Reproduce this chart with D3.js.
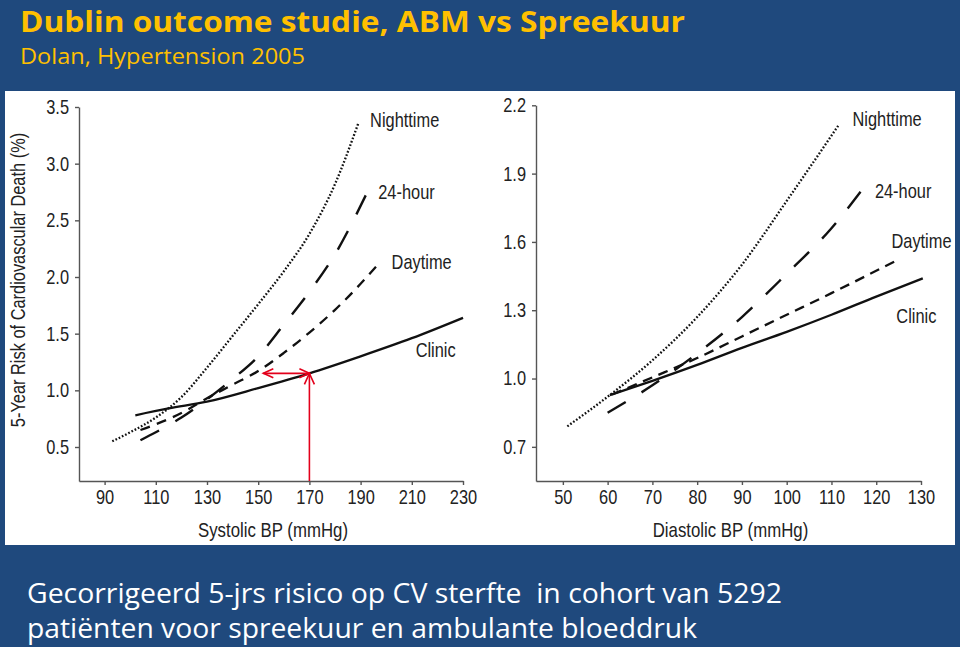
<!DOCTYPE html>
<html><head><meta charset="utf-8">
<script src="https://cdn.jsdelivr.net/npm/d3@7"></script>
<style>
html,body{margin:0;padding:0;background:#1f497d;}
svg{display:block;}
</style></head><body>
<svg id="c" width="960" height="647"></svg>
<script>
// ---------- DATA ----------
const titleText = "Dublin outcome studie, ABM vs Spreekuur";
const subtitleText = "Dolan, Hypertension 2005";
const footLine1 = "Gecorrigeerd 5-jrs risico op CV sterfte  in cohort van 5292";
const footLine2 = "patiënten voor spreekuur en ambulante bloeddruk";

const seriesNames = ["Nighttime", "24-hour", "Daytime", "Clinic"];

// Systolic panel
const sysTicksX = [90, 110, 130, 150, 170, 190, 210, 230];
const sysTicksY = [0.5, 1.0, 1.5, 2.0, 2.5, 3.0, 3.5];
const sysNightX = [93, 100, 110, 120, 130, 140, 150, 160, 170, 180, 189];
const sysNightY = [0.55, 0.63, 0.76, 0.94, 1.20, 1.48, 1.76, 2.05, 2.38, 2.82, 3.35];
const sys24X = [104, 110, 120, 130, 140, 150, 160, 170, 180, 192];
const sys24Y = [0.56, 0.63, 0.76, 0.92, 1.10, 1.30, 1.58, 1.87, 2.20, 2.72];
const sysDayX = [104, 110, 120, 130, 140, 150, 160, 170, 180, 190, 196];
const sysDayY = [0.65, 0.70, 0.80, 0.93, 1.05, 1.17, 1.33, 1.51, 1.71, 1.94, 2.09];
const sysClinicX = [102, 115, 130, 150, 170, 190, 210, 230];
const sysClinicY = [0.78, 0.84, 0.90, 1.02, 1.15, 1.30, 1.46, 1.64];
// label anchor positions (data units)
const sysLabelX = [193.7, 196.9, 202.1, 211.5];
const sysLabelY = [3.32, 2.69, 2.07, 1.29];
// red arrow annotation (data units)
const arrowX = 170, arrowY = 1.15, arrowLeftX = 152;

// Diastolic panel
const diaTicksX = [50, 60, 70, 80, 90, 100, 110, 120, 130];
const diaTicksY = [0.7, 1.0, 1.3, 1.6, 1.9, 2.2];
const diaNightX = [51, 60, 70, 80, 90, 100, 111.5];
const diaNightY = [0.79, 0.92, 1.08, 1.27, 1.50, 1.78, 2.11];
const dia24X = [60, 70, 80, 90, 100, 110, 116.5];
const dia24Y = [0.85, 0.97, 1.11, 1.27, 1.46, 1.66, 1.82];
const diaDayX = [61, 70, 80, 90, 100, 110, 124];
const diaDayY = [0.93, 1.005, 1.09, 1.185, 1.28, 1.375, 1.513];
const diaClinicX = [60.5, 70, 80, 90, 100, 110, 120, 130.4];
const diaClinicY = [0.927, 0.99, 1.06, 1.135, 1.205, 1.28, 1.36, 1.44];
const diaLabelX = [114.7, 119.7, 123.4, 124.5];
const diaLabelY = [2.11, 1.795, 1.572, 1.246];

// ---------- DRAW ----------
const SANS = "'Liberation Sans',Arial,sans-serif";
const COND = 0.82;
const svg = d3.select('#c');
svg.append('rect').attr('width', 960).attr('height', 647).attr('fill', '#1f497d');
svg.append('rect').attr('x', 5).attr('y', 91).attr('width', 950).attr('height', 454).attr('fill', '#ffffff');

function fitText(sel, len) {
  sel.attr('textLength', len).attr('lengthAdjust', 'spacingAndGlyphs');
}
fitText(svg.append('text').attr('x', 20).attr('y', 31.5)
  .attr('font-family', "'Open Sans',sans-serif").attr('font-weight', 700)
  .attr('font-size', 29).attr('fill', '#ffc000').text(titleText), 665);
fitText(svg.append('text').attr('x', 20).attr('y', 64)
  .attr('font-family', "'Open Sans',sans-serif")
  .attr('font-size', 22).attr('fill', '#ffc000').text(subtitleText), 285);
fitText(svg.append('text').attr('x', 27).attr('y', 603).style('white-space', 'pre')
  .attr('font-family', "'Open Sans',sans-serif")
  .attr('font-size', 28).attr('fill', '#ffffff').text(footLine1), 755);
fitText(svg.append('text').attr('x', 27).attr('y', 638).style('white-space', 'pre')
  .attr('font-family', "'Open Sans',sans-serif")
  .attr('font-size', 28).attr('fill', '#ffffff').text(footLine2), 670);

const styles = [
  { dash: [1.7, 1.9], w: 2.3 },
  { dash: [21, 21], w: 2.4 },
  { dash: [10, 7], w: 2.3 },
  { dash: null, w: 2.3 }
];

function panel(cfg) {
  const x = d3.scaleLinear().domain(cfg.xDomain).range(cfg.xRange);
  const y = d3.scaleLinear().domain(cfg.yDomain).range(cfg.yRange);
  const g = svg.append('g');
  const ax = g.append('g').attr('transform', `translate(0,${cfg.yRange[0]})`)
    .call(d3.axisBottom(x).tickValues(cfg.ticksX).tickSize(4).tickSizeOuter(0).tickPadding(5).tickFormat(d3.format('d')));
  const ay = g.append('g').attr('transform', `translate(${cfg.xRange[0]},0)`)
    .call(d3.axisLeft(y).tickValues(cfg.ticksY).tickSize(4).tickSizeOuter(0).tickPadding(6).tickFormat(d3.format('.1f')));
  [ax, ay].forEach(a => {
    a.attr('font-family', SANS).attr('font-size', 20);
    a.selectAll('path,line').attr('stroke', '#555').attr('stroke-width', 1.4);
    a.selectAll('text').attr('fill', '#222').classed('cond', true);
  });
  g.append('text').attr('x', (cfg.xRange[0] + cfg.xRange[1]) / 2 + 2).attr('y', 537)
    .attr('text-anchor', 'middle').attr('font-family', SANS).attr('font-size', 20.5)
    .attr('fill', '#222').classed('cond', true).text(cfg.xTitle);
  const line = d3.line().x(d => x(d[0])).y(d => y(d[1])).curve(d3.curveMonotoneX);
  cfg.series.forEach((s, i) => {
    const pts = s.xs.map((v, k) => [v, s.ys[k]]);
    const p = g.append('path').attr('d', line(pts)).attr('fill', 'none')
      .attr('stroke', '#111').attr('stroke-width', styles[i].w);
    if (styles[i].dash) {
      // stretch the gap slightly so the line both starts and ends on a full dash
      const [d, gap0] = styles[i].dash;
      const len = p.node().getTotalLength();
      const n = Math.max(1, Math.round((len - d) / (d + gap0)));
      const gap = (len - d) / n - d;
      p.attr('stroke-dasharray', `${d},${gap}`);
    }
    g.append('text').attr('x', x(cfg.labelX[i])).attr('y', y(cfg.labelY[i]))
      .attr('font-family', SANS).attr('font-size', 20).attr('fill', '#222')
      .classed('cond', true).text(seriesNames[i]);
  });
  return { g, x, y };
}

const L = panel({
  xDomain: [80, 230], xRange: [79, 463], yDomain: [0.2, 3.5], yRange: [481, 107],
  ticksX: sysTicksX, ticksY: sysTicksY, xTitle: 'Systolic BP (mmHg)',
  series: [
    { xs: sysNightX, ys: sysNightY }, { xs: sys24X, ys: sys24Y },
    { xs: sysDayX, ys: sysDayY }, { xs: sysClinicX, ys: sysClinicY }
  ],
  labelX: sysLabelX, labelY: sysLabelY
});
panel({
  xDomain: [44, 130], xRange: [536, 921], yDomain: [0.55, 2.2], yRange: [481, 105.3],
  ticksX: diaTicksX, ticksY: diaTicksY, xTitle: 'Diastolic BP (mmHg)',
  series: [
    { xs: diaNightX, ys: diaNightY }, { xs: dia24X, ys: dia24Y },
    { xs: diaDayX, ys: diaDayY }, { xs: diaClinicX, ys: diaClinicY }
  ],
  labelX: diaLabelX, labelY: diaLabelY
});

// y-axis title (left panel): wrapped in a rotated group so it can be condensed along its length
const yt = svg.append('g').attr('transform', `translate(25,${(L.y(0.2) + L.y(3.5)) / 2 - 14}) rotate(-90)`);
yt.append('text').attr('x', 0).attr('y', 0)
  .attr('text-anchor', 'middle').attr('font-family', SANS).attr('font-size', 20)
  .attr('fill', '#222').classed('cond', true).text('5-Year Risk of Cardiovascular Death (%)');

// red arrows
const red = '#e3001b';
const ax0 = L.x(arrowX), ay0 = L.y(arrowY), ayB = L.y(0.2), axL = L.x(arrowLeftX);
const ar = L.g.append('g').attr('stroke', red).attr('stroke-width', 1.6).attr('fill', 'none');
ar.append('line').attr('x1', ax0).attr('y1', ayB).attr('x2', ax0).attr('y2', ay0);
ar.append('polyline').attr('points', `${ax0 - 5},${ay0 + 11} ${ax0},${ay0} ${ax0 + 5},${ay0 + 11}`);
ar.append('line').attr('x1', axL).attr('y1', ay0).attr('x2', ax0).attr('y2', ay0);
ar.append('polyline').attr('points', `${axL + 10},${ay0 - 4.5} ${axL},${ay0} ${axL + 10},${ay0 + 4.5}`);
ar.append('polyline').attr('points', `${ax0 - 10},${ay0 - 4.5} ${ax0},${ay0} ${ax0 - 10},${ay0 + 4.5}`);

// condense the Helvetica-like labels horizontally (about their anchor) to match the narrow face
svg.selectAll('text.cond').each(function () {
  const ax = +(this.getAttribute('x') || 0);
  d3.select(this).attr('transform', `translate(${ax},0) scale(${COND},1) translate(${-ax},0)`);
});
</script>
</body></html>
